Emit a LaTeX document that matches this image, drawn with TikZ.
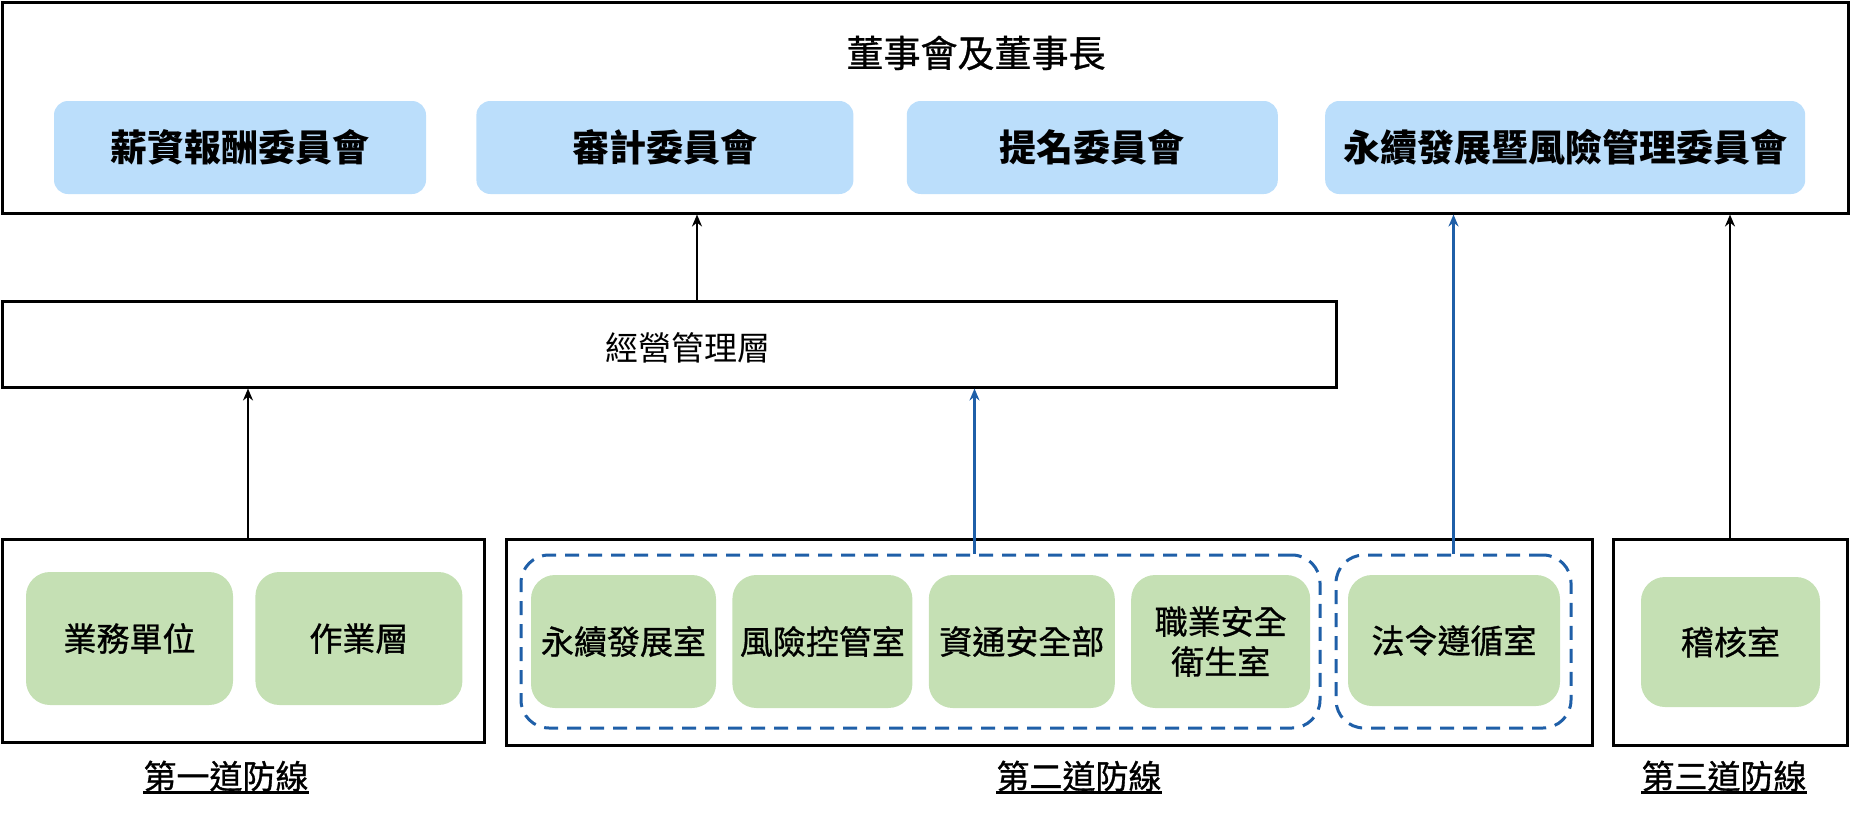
\documentclass[tikz,border=0pt]{standalone}
\usepackage{fontspec}
\setmainfont{Noto Sans CJK TC}
\newfontfamily\mediumcjk{Noto Sans CJK TC}[FakeBold=0.9]
\usepackage{xcolor}
\usepackage{tikz}
\usetikzlibrary{positioning, arrows.meta}
\definecolor{boardblue}{HTML}{BBDEFB}
\definecolor{unitgreen}{HTML}{C5E0B4}
\definecolor{linkblue}{HTML}{1F5FA8}
\tikzset{
    outerbox/.style={rectangle, draw, line width=3pt, inner sep=0pt},
    committee/.style={rectangle, rounded corners=14pt, fill=boardblue, inner sep=0pt, minimum height=93pt, font=\fontsize{37}{44}\selectfont\bfseries},
    unitbox/.style={rectangle, rounded corners=24pt, fill=unitgreen, inner sep=0pt, minimum height=133pt, align=center, font=\fontsize{33}{40}\mediumcjk},
    dashgroup/.style={rectangle, draw=linkblue, dash pattern=on 14pt off 9pt, line width=3pt, rounded corners=28pt, inner sep=0pt, minimum height=173pt},
    linelabel/.style={inner xsep=0pt, inner ysep=1pt, font=\fontsize{33}{40}\mediumcjk, append after command={(\tikzlastnode.south west) edge[line width=3pt] (\tikzlastnode.south east)}}
}

\begin{document}
\begin{tikzpicture}[x=1pt, y=-1pt, >={Stealth[length=12pt, width=10pt]}]
    \useasboundingbox (0,0) rectangle (1850,819);

    \node (board) [outerbox, minimum width=1846pt, minimum height=211pt] at (925,107.5) {};
    \node (title) at (976,53) {\fontsize{37}{44}\mediumcjk 董事會及董事長};
    \node (pay) [committee, minimum width=372pt] at (240,147.5) {薪資報酬委員會};
    \node (audit) [committee, minimum width=377pt, right=50pt of pay] {審計委員會};
    \node (nominate) [committee, minimum width=371pt, right=53pt of audit] {提名委員會};
    \node (esgrisk) [committee, minimum width=480pt, right=47pt of nominate] {永續發展暨風險管理委員會};

    \node (mgmt) [outerbox, minimum width=1334pt, minimum height=86pt] at (669,344) {};
    \node (mgmttext) at (688,348) {\fontsize{33}{40}\selectfont 經營管理層};

    \node (line1) [outerbox, minimum width=482pt, minimum height=203pt] at (243,640.5) {};
    \node (sales) [unitbox, minimum width=207pt] at (129.5,638.5) {業務單位};
    \node (ops) [unitbox, minimum width=207pt, right=22pt of sales] {作業層};

    \node (line2) [outerbox, minimum width=1086pt, minimum height=206pt] at (1049,642) {};
    \node (grp1) [dashgroup, minimum width=799pt] at (920.5,641.5) {};
    \node (esg) [unitbox, minimum width=185pt] at (623.5,641.5) {永續發展室};
    \node (risk) [unitbox, minimum width=180pt, right=16pt of esg] {風險控管室};
    \node (infosec) [unitbox, minimum width=186pt, right=16pt of risk] {資通安全部};
    \node (safety) [unitbox, minimum width=179pt, right=16pt of infosec] {職業安全\\衛生室};
    \node (grp2) [dashgroup, minimum width=235pt] at (1453.5,641.5) {};
    \node (legal) [unitbox, minimum width=212pt, minimum height=131pt] at (1454,640.5) {法令遵循室};

    \node (line3) [outerbox, minimum width=234pt, minimum height=206pt] at (1730,642) {};
    \node (internal) [unitbox, minimum width=179pt, minimum height=130pt] at (1730.5,642) {稽核室};

    \node (label1) [linelabel] at (226,776) {第一道防線};
    \node (label2) [linelabel] at (1079,776) {第二道防線};
    \node (label3) [linelabel] at (1724,776) {第三道防線};

    \coordinate (mgmtup) at ([xshift=28pt]mgmt.north);
    \coordinate (grp1up) at ([xshift=54pt]grp1.north);
    \draw[->, line width=2.2pt] (mgmtup) -- (mgmtup |- board.south);
    \draw[->, line width=2.2pt] ([xshift=5pt]line1.north) -- ([xshift=5pt]line1.north |- mgmt.south);
    \draw[->, line width=2.2pt, linkblue] (grp1up) -- (grp1up |- mgmt.south);
    \draw[->, line width=2.2pt, linkblue] (grp2.north) -- (grp2.north |- board.south);
    \draw[->, line width=2.2pt] (line3.north) -- (line3.north |- board.south);
\end{tikzpicture}
\end{document}
